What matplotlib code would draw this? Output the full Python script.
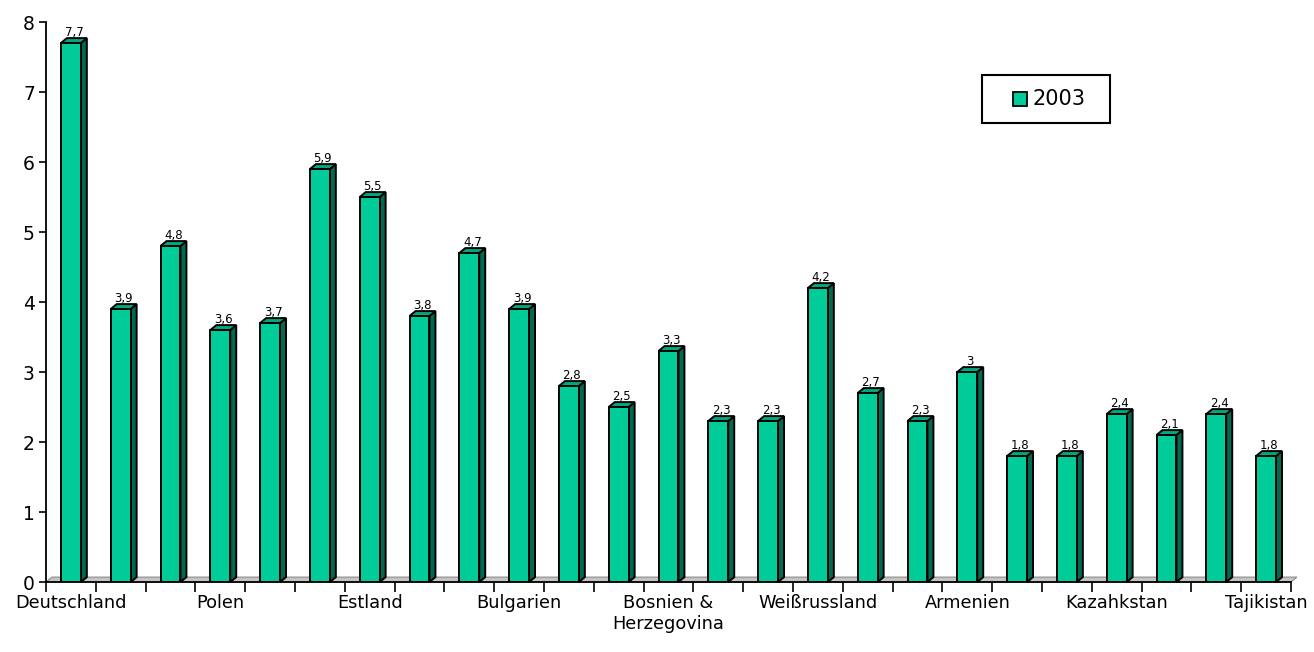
import matplotlib
matplotlib.use("Agg")
import matplotlib.pyplot as plt
from matplotlib.patches import Polygon, Rectangle
import numpy as np

categories = ["Deutschland", "Tschechien", "Ungarn", "Polen", "Slowakei", "Slowenien",
              "Estland", "Lettland", "Litauen", "Bulgarien", "Rumänien", "Kroatien",
              "Bosnien &\nHerzegovina", "Serbien", "Mazedonien", "Weißrussland", "Ukraine",
              "Russland", "Armenien", "Georgien", "Aserbaidschan", "Kazahkstan",
              "Kirgisistan", "Usbekistan", "Tajikistan"]
values_2003 = [7.7, 3.9, 4.8, 3.6, 3.7, 5.9, 5.5, 3.8, 4.7, 3.9, 2.8, 2.5, 3.3, 2.3,
               2.3, 4.2, 2.7, 2.3, 3.0, 1.8, 1.8, 2.4, 2.1, 2.4, 1.8]
series_name = "2003"
shown_every = 3

front_c = "#00CC99"
side_c = "#006A50"
top_c = "#00A87E"

W, H = 1314, 652
fig = plt.figure(figsize=(W/100, H/100), dpi=100)
ax = fig.add_axes([46/W, 70/H, 1245/W, 560/H])

n = len(categories)
x = np.arange(n)
bw = 0.4
dx, dy = 0.12, 0.07

# floor
ax.add_patch(Polygon([(-0.5, 0), (n - 0.5, 0), (n - 0.5 + dx, dy), (-0.5 + dx, dy)],
                     closed=True, facecolor="#C4C4C4", edgecolor="#8C8C8C", lw=0.8,
                     zorder=1, clip_on=False))

for xi, v in zip(x, values_2003):
    l, r = xi - bw/2, xi + bw/2
    ax.add_patch(Polygon([(r, 0), (r + dx, dy), (r + dx, v + dy), (r, v)], closed=True,
                         facecolor=side_c, edgecolor="black", lw=1.4, zorder=2,
                         joinstyle="miter", clip_on=False))
    ax.add_patch(Polygon([(l, v), (r, v), (r + dx, v + dy), (l + dx, v + dy)], closed=True,
                         facecolor=top_c, edgecolor="black", lw=1.4, zorder=2,
                         joinstyle="miter", clip_on=False))
    ax.text(xi + dx/2, v + dy - 0.01, ("%g" % v).replace(".", ","), ha="center",
            va="bottom", fontsize=8.5, zorder=4)

ax.bar(x, values_2003, width=bw, color=front_c, edgecolor="black", linewidth=1.4,
       zorder=3, label=series_name)

ax.set_xlim(-0.5, n - 0.5)
ax.set_ylim(0, 8)
ax.set_yticks(range(0, 9))
ax.tick_params(axis="y", labelsize=13.5, length=5, width=1.2, direction="out", pad=3)
ax.set_xticks(np.arange(n + 1) - 0.5)
ax.set_xticklabels([])
ax.set_xticks(x[::shown_every], minor=True)
ax.set_xticklabels([categories[i] for i in x[::shown_every]], minor=True, fontsize=12.8)
ax.tick_params(axis="x", which="major", length=7, width=1.2, direction="out")
ax.tick_params(axis="x", which="minor", length=0, pad=9)
for s in ["top", "right"]:
    ax.spines[s].set_visible(False)
ax.spines["left"].set_linewidth(1.3)
ax.spines["bottom"].set_linewidth(1.3)
ax.spines["bottom"].set_zorder(5)

# legend box (drawn in figure pixel coordinates)
ft = fig.transFigure
fig.patches.append(Rectangle((982/W, 1 - 123/H), 128/W, 48/H, transform=ft,
                             facecolor="white", edgecolor="black", lw=1.5, zorder=10))
fig.patches.append(Rectangle((1013/W, 1 - 106/H), 14/W, 14/H, transform=ft,
                             facecolor=front_c, edgecolor="black", lw=1.3, zorder=11))
fig.text(1032/W, 1 - 99/H, series_name, fontsize=15, va="center", ha="left", zorder=12)

fig.savefig("out.png", dpi=100)
